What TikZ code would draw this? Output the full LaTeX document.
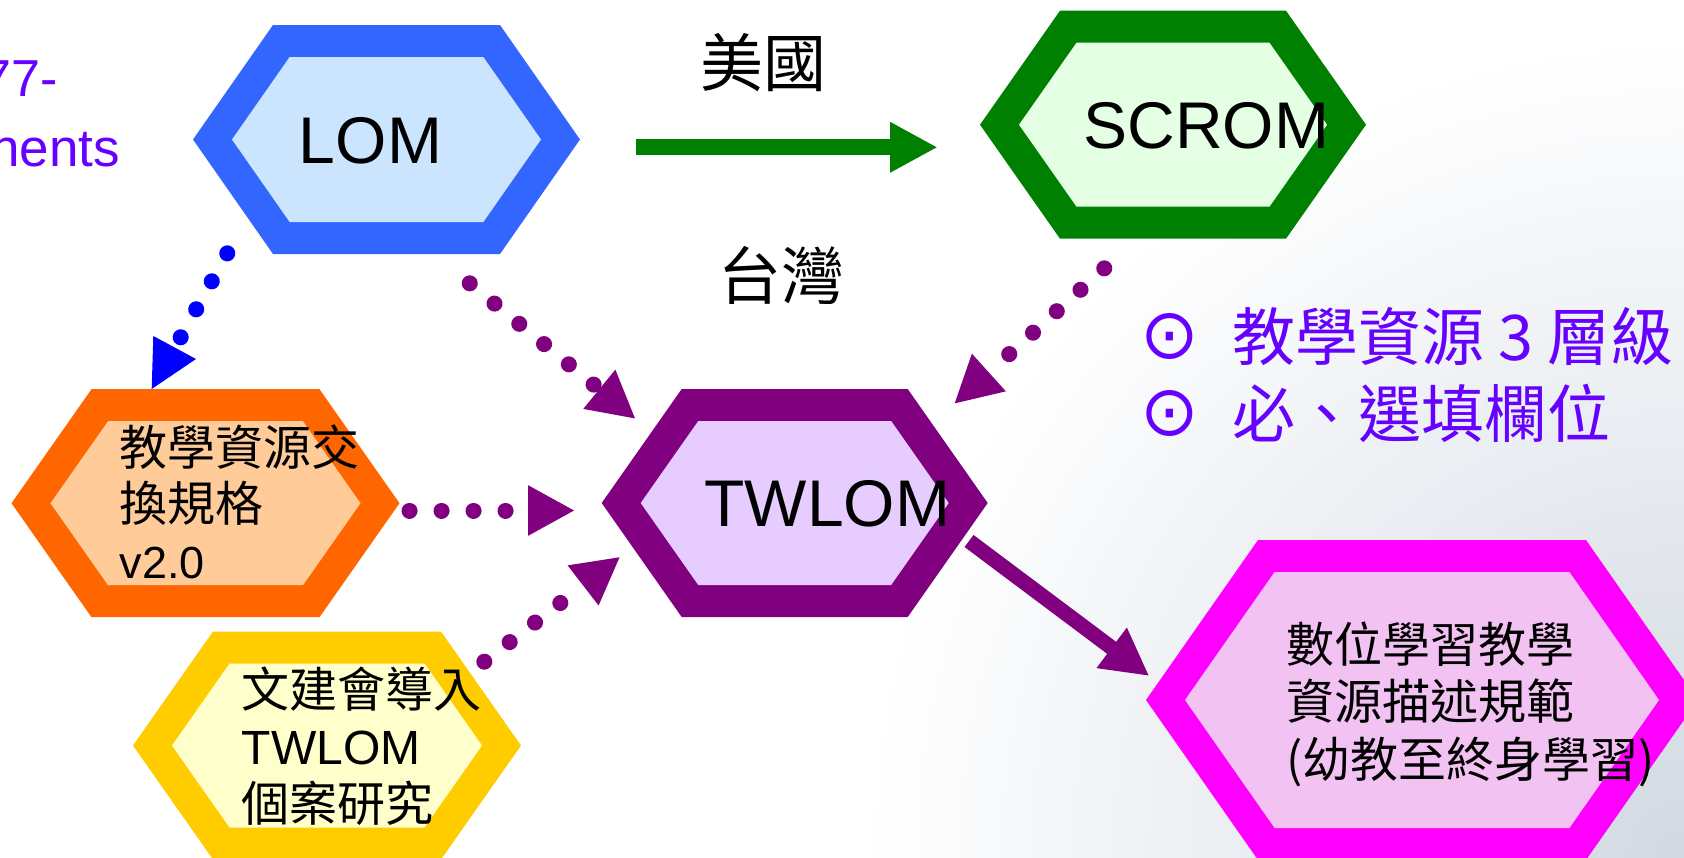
\documentclass[tikz,border=0pt]{standalone}
\usepackage{fontspec}
\setmainfont{Liberation Sans}
\newfontfamily\cjk{Noto Sans CJK TC}
\newfontfamily\dejavu{DejaVu Sans}
\usetikzlibrary{arrows.meta}
\definecolor{lomB}{HTML}{3366FF}\definecolor{lomF}{HTML}{CCE5FF}
\definecolor{scrB}{HTML}{008000}\definecolor{scrF}{HTML}{E5FFE5}
\definecolor{twB}{HTML}{800080}\definecolor{twF}{HTML}{E6CCFF}
\definecolor{orgB}{HTML}{FF6600}\definecolor{orgF}{HTML}{FFCC99}
\definecolor{yelB}{HTML}{FFCC00}\definecolor{yelF}{HTML}{FFFFCC}
\definecolor{mgB}{HTML}{FF00FF}\definecolor{mgF}{HTML}{F2C2F2}
\definecolor{violetT}{HTML}{6600FF}
\definecolor{dotBlue}{HTML}{0000FF}
\definecolor{bgShade}{HTML}{D2D9E2}
% #1 name, #2 cx, #3 cy, #4 half width, #5 half height, #6 slant, #7 border, #8 fill
\newcommand\hexshape[8]{%
  \pgfmathsetmacro\hxL{#2-#4}%
  \pgfmathsetmacro\hxR{#2+#4}%
  \pgfmathsetmacro\hxT{#3-#5}%
  \pgfmathsetmacro\hxB{#3+#5}%
  \pgfmathsetmacro\hxa{#2-#4+#6}%
  \pgfmathsetmacro\hxb{#2+#4-#6}%
  \fill[#7] (\hxL,#3) -- (\hxa,\hxT) -- (\hxb,\hxT) -- (\hxR,#3) -- (\hxb,\hxB) -- (\hxa,\hxB) -- cycle;
  \pgfmathsetmacro\hxL{#2-#4+39}%
  \pgfmathsetmacro\hxR{#2+#4-39}%
  \pgfmathsetmacro\hxT{#3-#5+32}%
  \pgfmathsetmacro\hxB{#3+#5-32}%
  \pgfmathsetmacro\hxs{#6*(#5-32)/#5}%
  \pgfmathsetmacro\hxa{\hxL+\hxs}%
  \pgfmathsetmacro\hxb{\hxR-\hxs}%
  \fill[#8] (\hxL,#3) -- (\hxa,\hxT) -- (\hxb,\hxT) -- (\hxR,#3) -- (\hxb,\hxB) -- (\hxa,\hxB) -- cycle;
  \coordinate (#1) at (#2,#3);
}
\newcommand\linestack[2]{\vtop{\baselineskip=#1pt\lineskiplimit=-100pt\lineskip=0pt #2}}
\begin{document}
\begin{tikzpicture}[x=1pt,y=-1pt,
  dotP/.style={draw=twB, line width=16pt, line cap=round, dash pattern=on 0.1pt off 31.9pt},
  dotB/.style={draw=dotBlue, line width=16pt, line cap=round, dash pattern=on 0.1pt off 31.9pt},
  headP/.style={-{Triangle[length=47pt,width=47pt]}},
  solidG/.style={draw=scrB, line width=16pt, -{Triangle[length=47.5pt,width=47pt]}},
  solidP/.style={draw=twB, line width=15pt, -{Triangle[length=47pt,width=47pt]}},
  bigtxt/.style={font=\fontsize{66}{72}\selectfont, inner sep=0pt},
  cjkbody/.style={font=\cjk\fontsize{48}{57}\selectfont, inner sep=0pt, anchor=base west},
  lbl/.style={font=\cjk\fontsize{63}{70}\selectfont, inner sep=0pt},
  bullet/.style={font=\dejavu\fontsize{70}{76}\selectfont, text=violetT, inner sep=0pt},
  side/.style={font=\cjk\fontsize{63}{70}\selectfont, text=violetT, inner sep=0pt, anchor=west},
  cut/.style={font=\fontsize{53}{60}\selectfont, text=violetT, inner sep=0pt, anchor=base east}]
\useasboundingbox (0,0) rectangle (1684,857);
\clip (0,0) rectangle (1684,857);
\fill[white] (0,0) rectangle (1684,857);
\shade[inner color=bgShade, outer color=white] (1684,857) circle[radius=820pt];

% hexagons
\hexshape{LOM}{386.5}{139.5}{193.5}{114.5}{80}{lomB}{lomF}
\hexshape{SCROM}{1173}{124.7}{193}{114}{80}{scrB}{scrF}
\hexshape{TW}{794.7}{503}{193}{114}{80}{twB}{twF}
\hexshape{ORG}{205.5}{503.2}{194}{114}{80}{orgB}{orgF}
\hexshape{YEL}{327}{745.5}{194}{114}{80}{yelB}{yelF}
\hexshape{MAG}{1422}{700}{276}{160}{112}{mgB}{mgF}

% texts
\node[bigtxt] (lomtxt) at (370.5,141) {LOM};
\node[bigtxt] (scrtxt) at (1206.3,125.8) {SCROM};
\node[bigtxt] (twtxt) at (827.3,504) {TWLOM};
\node[cjkbody] (orgtxt) at (119.5,465) {\linestack{56.5}{\hbox{教學資源交}\hbox{換規格}\hbox{\rmfamily\fontsize{45}{50}\selectfont v2.0}}};
\node[cjkbody] (yeltxt) at (241.5,707) {\linestack{57}{\hbox{文建會導入}\hbox{\rmfamily TWLOM}\hbox{個案研究}}};
\node[cjkbody] (magtxt) at (1286.5,662) {\linestack{57.5}{\hbox{數位學習教學}\hbox{資源描述規範}\hbox{(幼教至終身學習)}}};
\node[lbl] (usa) at (763,63) {美國};
\node[lbl] (taiwan) at (781.7,275) {台灣};
\node[bullet] (bul1) at (1170,336) {⊙};
\node[bullet] (bul2) at (1170,413) {⊙};
\node[side] (side1) at (1232,337) {教學資源 3 層級};
\node[side] (side2) at (1232,413) {必、選填欄位};
\node[cut,font=\fontsize{52}{58}\selectfont] (cut1) at (58,96) {77-};
\node[cut] (cut2) at (120,166.7) {nents};

% connector end points
\coordinate (lomOutG) at (636,147.3);
\coordinate (scrInG) at (937.7,147.3);
\coordinate (lomOutP) at (469.7,283.3);
\coordinate (twInA) at (635.7,419);
\coordinate (orgOut) at (409.5,510.5);
\coordinate (twInB) at (575,510.5);
\coordinate (yelOut) at (484.3,661.7);
\coordinate (twInC) at (620.3,556.7);
\coordinate (scrOut) at (1104.3,268.3);
\coordinate (twInD) at (954,404);
\coordinate (twOut) at (969,541);
\coordinate (magIn) at (1149.3,676);
\coordinate (lomOutB) at (227.3,253.3);
\coordinate (orgInB) at (180.5,337.6);
\coordinate (bhA) at (153.3,336);
\coordinate (bhB) at (196,359);
\coordinate (bhC) at (151.7,389);

% connectors
\draw[solidG] (lomOutG) -- (scrInG);
\draw[dotP, headP] (lomOutP) -- (twInA);
\draw[dotP, headP] (orgOut) -- (twInB);
\draw[dotP, headP] (yelOut) -- (twInC);
\draw[dotP, headP] (scrOut) -- (twInD);
\draw[solidP] (twOut) -- (magIn);
\draw[dotB] (lomOutB) -- (orgInB);
\fill[dotBlue] (bhA) -- (bhB) -- (bhC) -- cycle;
\end{tikzpicture}
\end{document}
